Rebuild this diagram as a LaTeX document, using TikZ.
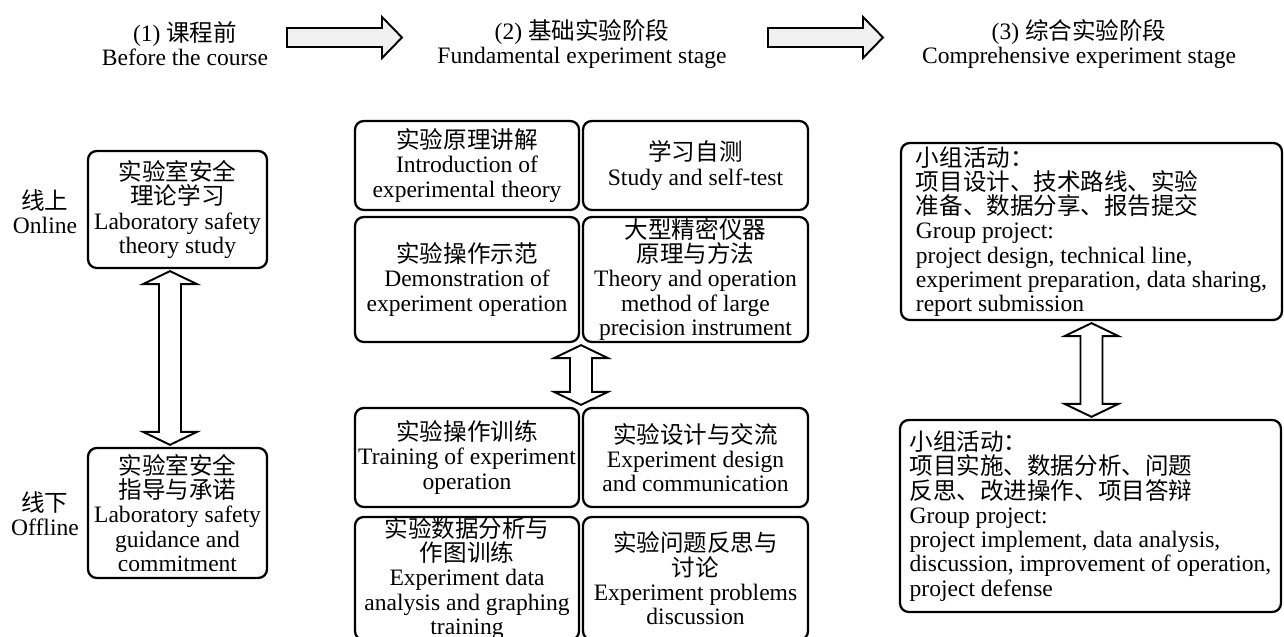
\documentclass[tikz,border=0pt]{standalone}
\usepackage{fontspec}
\setmainfont{Liberation Serif}
\newfontfamily\cjk{Noto Sans CJK SC}
\usetikzlibrary{calc}

% flat block arrow from #1 to #2 (named coordinates)
\newcommand\hblock[2]{%
  \draw[flatarrow] let \p1=(#1), \p2=(#2) in
    (\x1,\y1+0.19cm) -- (\x2-0.4cm,\y1+0.19cm) -- (\x2-0.4cm,\y1+0.41cm) -- (\x2,\y1)
    -- (\x2-0.4cm,\y1-0.41cm) -- (\x2-0.4cm,\y1-0.19cm) -- (\x1,\y1-0.19cm) -- cycle;}
% hollow double block arrow: #1 fixes x, #2 upper end, #3 lower end
\newcommand\vblock[3]{%
  \draw[hollowarrow] let \p3=#1, \p1=#2, \p2=#3 in
    (\x3,\y1-0.04cm) -- (\x3+0.54cm,\y1-0.30cm) -- (\x3+0.22cm,\y1-0.30cm)
    -- (\x3+0.22cm,\y2+0.30cm) -- (\x3+0.54cm,\y2+0.30cm) -- (\x3,\y2+0.04cm)
    -- (\x3-0.54cm,\y2+0.30cm) -- (\x3-0.22cm,\y2+0.30cm) -- (\x3-0.22cm,\y1-0.30cm)
    -- (\x3-0.54cm,\y1-0.30cm) -- cycle;}

\begin{document}
\begin{tikzpicture}[font=\fontsize{13.4}{13.8}\selectfont,
    box/.style={draw,line width=1.3pt,rounded corners=5pt,inner sep=0pt,align=center},
    groupbox/.style={box,align=left},
    flatarrow/.style={draw,line width=1.1pt,fill=gray!12},
    hollowarrow/.style={draw,line width=1.1pt,fill=white}]
  \useasboundingbox (0,0) rectangle (25.68,12.74);
  % stages
  \node[align=center] (h1) at (3.7,11.86) {(1) {\cjk 课程前}\\Before the course};
  \node[align=center] (h2) at (11.64,11.86) {(2) {\cjk 基础实验阶段}\\Fundamental experiment stage};
  \node[align=center] (h3) at (21.58,11.86) {(3) {\cjk 综合实验阶段}\\Comprehensive experiment stage};
  \coordinate (a1s) at (5.74,11.99);
  \coordinate (a1e) at (8.04,11.99);
  \coordinate (a2s) at (15.36,11.99);
  \coordinate (a2e) at (17.66,11.99);
  \hblock{a1s}{a1e}
  \hblock{a2s}{a2e}
  % before the course
  \node[align=center] (lbon) at (0.9,8.5) {{\cjk 线上}\\Online};
  \node[align=center] (lboff) at (0.9,2.46) {{\cjk 线下}\\Offline};
  \node[box,minimum width=3.58cm,minimum height=2.34cm] (lon) at (3.55,8.55)
    {{\cjk 实验室安全}\\{\cjk 理论学习}\\Laboratory safety\\theory study};
  \node[box,minimum width=3.58cm,minimum height=2.6cm] (loff) at (3.55,2.48)
    {{\cjk 实验室安全}\\{\cjk 指导与承诺}\\Laboratory safety\\guidance and\\commitment};
  \vblock{([xshift=-0.15cm]lon.south)}{(lon.south)}{(loff.north)}
  % fundamental stage
  \node[box,minimum width=4.48cm,minimum height=1.78cm] (m11) at (9.34,9.43)
    {{\cjk 实验原理讲解}\\Introduction of\\experimental theory};
  \node[box,minimum width=4.5cm,minimum height=1.78cm] (m12) at (13.91,9.43)
    {{\cjk 学习自测}\\Study and self-test};
  \node[box,minimum width=4.48cm,minimum height=2.5cm] (m21) at (9.34,7.15)
    {{\cjk 实验操作示范}\\Demonstration of\\experiment operation};
  \node[box,minimum width=4.5cm,minimum height=2.5cm] (m22) at (13.91,7.15)
    {{\cjk 大型精密仪器}\\{\cjk 原理与方法}\\Theory and operation\\method of large\\precision instrument};
  \node[box,minimum width=4.48cm,minimum height=1.98cm] (m31) at (9.34,3.59)
    {{\cjk 实验操作训练}\\Training of experiment\\operation};
  \node[box,minimum width=4.5cm,minimum height=1.98cm] (m32) at (13.91,3.59)
    {{\cjk 实验设计与交流}\\Experiment design\\and communication};
  \node[box,minimum width=4.48cm,minimum height=2.46cm] (m41) at (9.34,1.17)
    {{\cjk 实验数据分析与}\\{\cjk 作图训练}\\Experiment data\\analysis and graphing\\training};
  \node[box,minimum width=4.5cm,minimum height=2.46cm] (m42) at (13.91,1.17)
    {{\cjk 实验问题反思与}\\{\cjk 讨论}\\Experiment problems\\discussion};
  \vblock{($(m21.south east)!0.5!(m22.south west)$)}{(m21.south)}{(m31.north)}
  % comprehensive stage
  \node[groupbox,minimum width=7.62cm,minimum height=3.54cm] (g1) at (21.83,8.11)
    {{\cjk 小组活动：}\\{\cjk 项目设计、技术路线、实验}\\{\cjk 准备、数据分享、报告提交}\\Group project:\\project design, technical line,\\experiment preparation, data sharing,\\report submission};
  \node[groupbox,minimum width=7.62cm,minimum height=3.84cm] (g2) at (21.81,2.42)
    {{\cjk 小组活动：}\\{\cjk 项目实施、数据分析、问题}\\{\cjk 反思、改进操作、项目答辩}\\Group project:\\project implement, data analysis,\\discussion, improvement of operation,\\project defense};
  \vblock{(g1.south)}{(g1.south)}{(g2.north)}
\end{tikzpicture}
\end{document}
